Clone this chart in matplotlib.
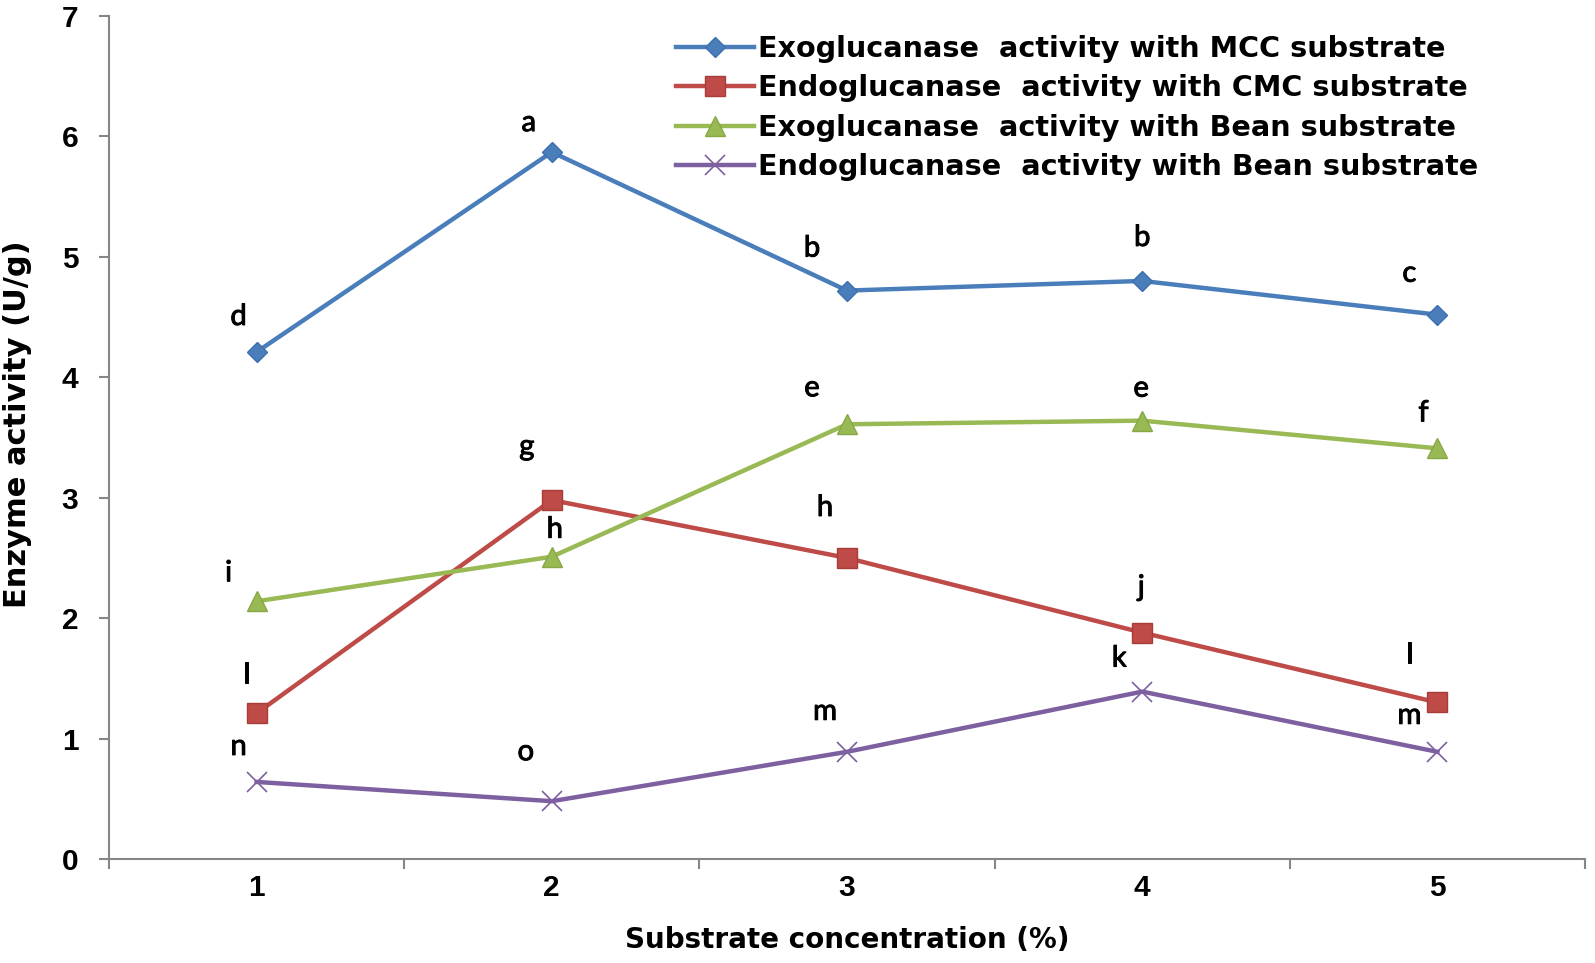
import matplotlib
matplotlib.use("Agg")
import matplotlib.pyplot as plt
import matplotlib.patheffects as pe

# substrate concentration (%)
concentration = [1, 2, 3, 4, 5]

exo_mcc = [4.21, 5.87, 4.72, 4.80, 4.52]
endo_cmc = [1.21, 2.98, 2.50, 1.88, 1.30]
exo_bean = [2.14, 2.51, 3.61, 3.64, 3.41]
endo_bean = [0.64, 0.48, 0.89, 1.39, 0.89]

letters_exo_mcc = ["d", "a", "b", "b", "c"]
letters_endo_cmc = ["l", "g", "h", "j", "l"]
letters_exo_bean = ["i", "h", "e", "e", "f"]
letters_endo_bean = ["n", "o", "m", "k", "m"]

series_names = [
    "Exoglucanase  activity with MCC substrate",
    "Endoglucanase  activity with CMC substrate",
    "Exoglucanase  activity with Bean substrate",
    "Endoglucanase  activity with Bean substrate",
]

# label offsets in pixels (dx, dy) from each point
offs_exo_mcc = [(-18, 35), (-23, 29), (-35, 42), (0, 43), (-28, 41)]
offs_endo_cmc = [(-10, 38), (-25, 53), (-22, 50), (-1, 45), (-28, 47)]
offs_exo_bean = [(-28, 28), (3, 27), (-35, 36), (-1, 32), (-14, 35)]
offs_endo_bean = [(-18, 35), (-26, 49), (-22, 40), (-23, 33), (-28, 36)]

fig = plt.figure(figsize=(15.95, 9.63), dpi=100)
ax = fig.add_axes([109 / 1595, 1 - 859 / 963, (1585 - 109) / 1595, (859 - 16) / 963])

styles = [
    dict(color="#4A7EBB", marker="D", markersize=10, markeredgecolor="#3C6FAE"),
    dict(color="#BE4B48", marker="s", markersize=15, markeredgecolor="#A83C39"),
    dict(color="#98B954", marker="^", markersize=14, markeredgecolor="#88A845"),
    dict(color="#7D60A0", marker="x", markersize=14, markeredgecolor="#7D60A0",
         markeredgewidth=1.2),
]
all_series = [exo_mcc, endo_cmc, exo_bean, endo_bean]
all_letters = [letters_exo_mcc, letters_endo_cmc, letters_exo_bean, letters_endo_bean]
all_offs = [offs_exo_mcc, offs_endo_cmc, offs_exo_bean, offs_endo_bean]

for vals, name, st in zip(all_series, series_names, styles):
    ax.plot(concentration, vals, linewidth=3.2, label=name, **st)

thick = [pe.withStroke(linewidth=0.7, foreground="black")]
for vals, lets, offs in zip(all_series, all_letters, all_offs):
    for x, y, t, (dx, dy) in zip(concentration, vals, lets, offs):
        ax.annotate(t, (x, y), xytext=(dx, dy), textcoords="offset pixels",
                    ha="center", va="center", fontsize=21, family="Lato",
                    color="black", path_effects=thick)

ax.set_xlim(0.5, 5.5)
ax.set_ylim(0, 7)

for s in ["top", "right"]:
    ax.spines[s].set_visible(False)
for s in ["left", "bottom"]:
    ax.spines[s].set_color("#868686")
    ax.spines[s].set_linewidth(1.5)

ax.set_xticks(concentration)
ax.set_xticks([0.5, 1.5, 2.5, 3.5, 4.5, 5.5], minor=True)
ax.tick_params(axis="x", which="major", length=0, pad=11)
ax.tick_params(axis="x", which="minor", length=7, width=1.5, color="#868686")
ax.set_yticks(range(0, 8))
ax.tick_params(axis="y", length=7, width=1.5, color="#868686", pad=15)

for lab in ax.get_xticklabels() + ax.get_yticklabels():
    lab.set_fontsize(21.5)
    lab.set_family("Liberation Sans")
    lab.set_fontweight("bold")

ax.set_xlabel("Substrate concentration (%)", fontsize=20, family="DejaVu Sans",
              fontweight="bold", va="center")
ax.xaxis.set_label_coords(0.5, -0.096)
ax.set_ylabel("Enzyme activity (U/g)", fontsize=22, family="DejaVu Sans",
              fontweight="bold", va="center")
ax.yaxis.set_label_coords(-0.0617, 0.516)

leg = fig.legend(*ax.get_legend_handles_labels(), loc="upper left",
                 bbox_to_anchor=(0.424, 0.964), frameon=False,
                 handlelength=2.7, handletextpad=0.15, labelspacing=0.4,
                 borderaxespad=0, borderpad=0,
                 prop=dict(family="DejaVu Sans", weight="bold", size=20.6))

fig.savefig("out.png", dpi=100, facecolor="white")
